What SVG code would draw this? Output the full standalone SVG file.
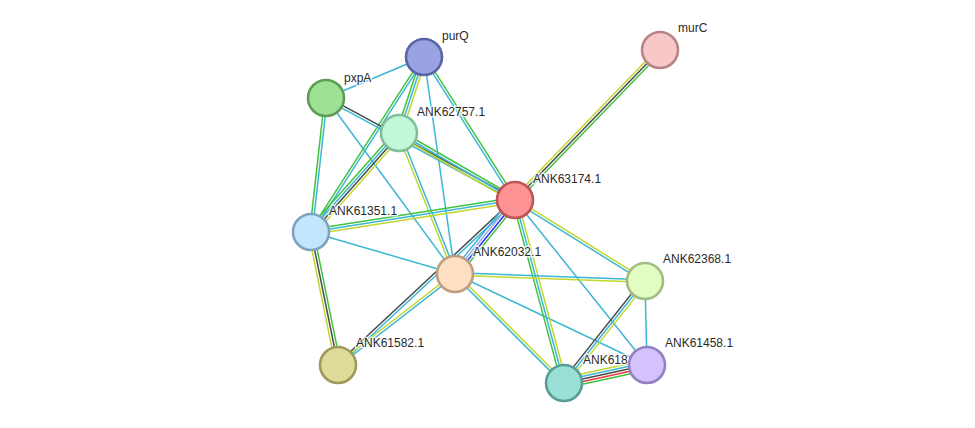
<svg xmlns="http://www.w3.org/2000/svg" width="975" height="428" viewBox="0 0 975 428">
<style>
line{stroke-width:1.5;fill:none}
.cy{stroke:#3bb7d6}.gr{stroke:#3ec43e}.ye{stroke:#c3d62e}.dk{stroke:#4a4a4a}.bl{stroke:#3030ee}.lv{stroke:#a6a6f0}.rd{stroke:#ee3a3a}
circle{stroke-width:2.6}
text{font-family:"Liberation Sans",Arial,sans-serif;font-size:12px;fill:#2a2a2a;stroke:#ffffff;stroke-width:3;stroke-opacity:0.75;paint-order:stroke;stroke-linejoin:round}
</style>
<rect width="975" height="428" fill="#ffffff"/>
<g id="connectors">
<line class="cy" x1="424" y1="57" x2="326" y2="98"/>
<line class="cy" x1="424" y1="57" x2="455" y2="274"/>
<line class="cy" x1="326" y1="98" x2="455" y2="274"/>
<line class="cy" x1="311" y1="232" x2="455" y2="274"/>
<line class="cy" x1="515" y1="200" x2="647" y2="365"/>
<line class="cy" x1="455" y1="274" x2="647" y2="365"/>
<line class="cy" x1="645" y1="281" x2="647" y2="365"/>
<g transform="translate(424 57) rotate(108.2)"><line class="ye" x1="0" y1="-2.6" x2="80" y2="-2.6"/><line class="cy" x1="0" y1="0" x2="80" y2="0"/><line class="gr" x1="0" y1="2.6" x2="80" y2="2.6"/></g>
<g transform="translate(424 57) rotate(122.85)"><line class="cy" x1="0" y1="-1.3" x2="208.3" y2="-1.3"/><line class="gr" x1="0" y1="1.3" x2="208.3" y2="1.3"/></g>
<g transform="translate(424 57) rotate(57.53)"><line class="gr" x1="0" y1="-1.3" x2="169.5" y2="-1.3"/><line class="cy" x1="0" y1="1.3" x2="169.5" y2="1.3"/></g>
<g transform="translate(326 98) rotate(28.36)"><line class="dk" x1="0" y1="-1.3" x2="214.8" y2="-1.3"/><line class="cy" x1="0" y1="1.3" x2="214.8" y2="1.3"/></g>
<g transform="translate(326 98) rotate(96.39)"><line class="cy" x1="0" y1="-1.3" x2="134.8" y2="-1.3"/><line class="gr" x1="0" y1="1.3" x2="134.8" y2="1.3"/></g>
<g transform="translate(399 133) rotate(131.63)"><line class="yell ye" x1="0" y1="-3.9" x2="132.5" y2="-3.9"/><line class="dk" x1="0" y1="-1.3" x2="132.5" y2="-1.3"/><line class="cy" x1="0" y1="1.3" x2="132.5" y2="1.3"/><line class="gr" x1="0" y1="3.9" x2="132.5" y2="3.9"/></g>
<g transform="translate(399 133) rotate(68.34)"><line class="cy" x1="0" y1="-1.3" x2="151.7" y2="-1.3"/><line class="ye" x1="0" y1="1.3" x2="151.7" y2="1.3"/></g>
<g transform="translate(399 133) rotate(30.01)"><line class="gr" x1="0" y1="-2.6" x2="134" y2="-2.6"/><line class="cy" x1="0" y1="0" x2="134" y2="0"/><line class="ye" x1="0" y1="2.6" x2="134" y2="2.6"/></g>
<g transform="translate(311 232) rotate(-8.91)"><line class="gr" x1="0" y1="-2.6" x2="206.5" y2="-2.6"/><line class="cy" x1="0" y1="0" x2="206.5" y2="0"/><line class="ye" x1="0" y1="2.6" x2="206.5" y2="2.6"/></g>
<g transform="translate(515 200) rotate(-45.97)"><line class="ye" x1="0" y1="-2.6" x2="208.6" y2="-2.6"/><line class="dk" x1="0" y1="0" x2="208.6" y2="0"/><line class="gr" x1="0" y1="2.6" x2="208.6" y2="2.6"/></g>
<g transform="translate(338 365) rotate(-43)"><line class="dk" x1="0" y1="-1.3" x2="242" y2="-1.3"/><line class="cy" x1="0" y1="1.3" x2="242" y2="1.3"/></g>
<g transform="translate(338 365) rotate(-37.87)"><line class="ye" x1="0" y1="-1.3" x2="148.2" y2="-1.3"/><line class="cy" x1="0" y1="1.3" x2="148.2" y2="1.3"/></g>
<g transform="translate(455 274) rotate(-50.96)"><line class="cy" x1="0" y1="-3.9" x2="95.3" y2="-3.9"/><line class="lv" x1="0" y1="-1.3" x2="95.3" y2="-1.3"/><line class="bl" x1="0" y1="1.3" x2="95.3" y2="1.3"/><line class="gr" x1="0" y1="3.9" x2="95.3" y2="3.9"/></g>
<g transform="translate(311 232) rotate(78.52)"><line class="gr" x1="0" y1="-2.6" x2="135.7" y2="-2.6"/><line class="dk" x1="0" y1="0" x2="135.7" y2="0"/><line class="ye" x1="0" y1="2.6" x2="135.7" y2="2.6"/></g>
<g transform="translate(515 200) rotate(31.93)"><line class="ye" x1="0" y1="-1.3" x2="153.2" y2="-1.3"/><line class="cy" x1="0" y1="1.3" x2="153.2" y2="1.3"/></g>
<g transform="translate(515 200) rotate(75)"><line class="ye" x1="0" y1="-2.6" x2="189.4" y2="-2.6"/><line class="cy" x1="0" y1="0" x2="189.4" y2="0"/><line class="gr" x1="0" y1="2.6" x2="189.4" y2="2.6"/></g>
<g transform="translate(455 274) rotate(2.11)"><line class="cy" x1="0" y1="-1.3" x2="190.1" y2="-1.3"/><line class="ye" x1="0" y1="1.3" x2="190.1" y2="1.3"/></g>
<g transform="translate(455 274) rotate(45)"><line class="ye" x1="0" y1="-1.3" x2="154.1" y2="-1.3"/><line class="cy" x1="0" y1="1.3" x2="154.1" y2="1.3"/></g>
<g transform="translate(564 383) rotate(-51.55)"><line class="dk" x1="0" y1="-2.6" x2="130.2" y2="-2.6"/><line class="cy" x1="0" y1="0" x2="130.2" y2="0"/><line class="ye" x1="0" y1="2.6" x2="130.2" y2="2.6"/></g>
<g transform="translate(564 383) rotate(-12.24)"><line class="ye" x1="0" y1="-5.2" x2="84.9" y2="-5.2"/><line class="cy" x1="0" y1="-2.6" x2="84.9" y2="-2.6"/><line class="dk" x1="0" y1="0" x2="84.9" y2="0"/><line class="rd" x1="0" y1="2.6" x2="84.9" y2="2.6"/><line class="gr" x1="0" y1="5.2" x2="84.9" y2="5.2"/></g>
</g>
<g id="purQ"><circle cx="424" cy="57" r="18" fill="#99a3e1" stroke="#5a64a6"/><text x="442" y="40">purQ</text></g>
<g id="pxpA"><circle cx="326" cy="98" r="18" fill="#9ee094" stroke="#5f9e55"/><text x="344" y="82">pxpA</text></g>
<g id="ANK62757.1"><circle cx="399" cy="133" r="18" fill="#c2f7da" stroke="#80bf98"/><text x="417" y="116">ANK62757.1</text></g>
<g id="murC"><circle cx="660" cy="50" r="18" fill="#f8c8c9" stroke="#b88586"/><text x="678" y="32">murC</text></g>
<g id="ANK63174.1"><circle cx="515" cy="200" r="18" fill="#fd9294" stroke="#bd5557"/><text x="533" y="183">ANK63174.1</text></g>
<g id="ANK61351.1"><circle cx="311" cy="232" r="18" fill="#c2e7fc" stroke="#7fa4bd"/><text x="329" y="215">ANK61351.1</text></g>
<g id="ANK62032.1"><circle cx="455" cy="274" r="18" fill="#fddfc2" stroke="#bc9f82"/><text x="473" y="256">ANK62032.1</text></g>
<g id="ANK62368.1"><circle cx="645" cy="281" r="18" fill="#e2fcc2" stroke="#a2bd84"/><text x="663" y="263">ANK62368.1</text></g>
<g id="ANK61582.1"><circle cx="338" cy="365" r="18" fill="#dfdc9a" stroke="#9d9a5b"/><text x="356" y="347">ANK61582.1</text></g>
<g id="ANK618"><circle cx="564" cy="383" r="18" fill="#9ae0d6" stroke="#5b9d95"/><text x="583" y="364">ANK618</text></g>
<g id="ANK61458.1"><circle cx="647" cy="365" r="18" fill="#d3c2fb" stroke="#9280c1"/><text x="665" y="347">ANK61458.1</text></g>
</svg>
